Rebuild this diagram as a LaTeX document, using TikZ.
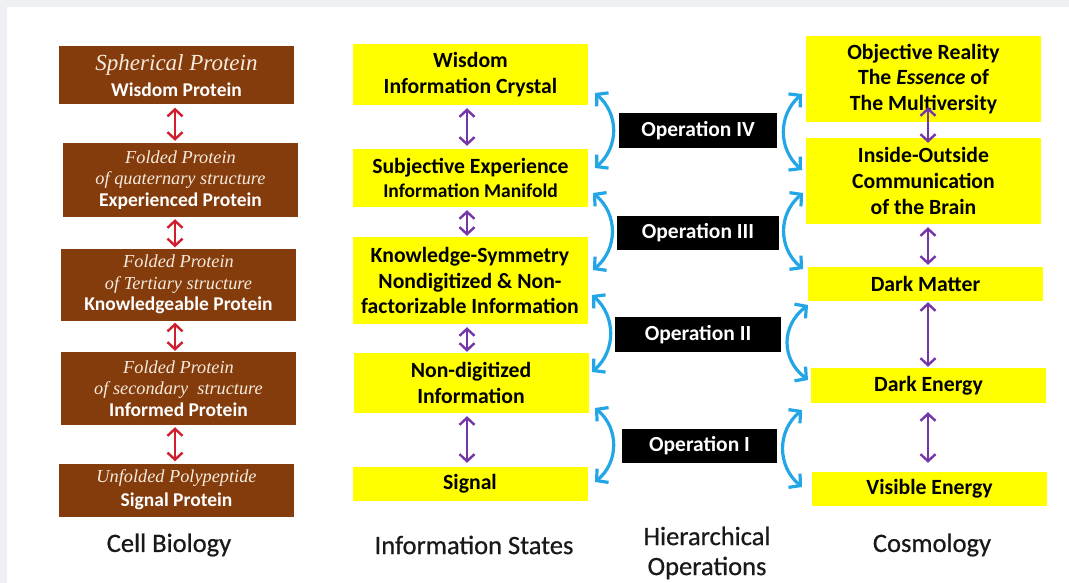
\documentclass[tikz,border=0pt]{standalone}
\usepackage{fontspec}
\setmainfont{Carlito}
\newfontfamily\scr{Liberation Serif}
\newfontfamily\lblfont[FakeBold=0.6]{Carlito}
\usetikzlibrary{arrows.meta}
\definecolor{bgray}{HTML}{EEF0F3}
\definecolor{pbrown}{HTML}{843C0C}
\definecolor{pcream}{HTML}{F5EBDD}
\definecolor{pyellow}{HTML}{FFFF00}
\definecolor{pred}{HTML}{D01E2E}
\definecolor{ppurple}{HTML}{7436A8}
\definecolor{pblue}{HTML}{22A6E6}
\newcommand{\fs}[2]{\fontsize{#1}{#2}\selectfont}
\newcommand{\itl}[1]{{\scr\itshape\color{pcream}\fs{18.3}{21.5}#1}}
\newcommand{\bdl}[1]{{\bfseries\color{white}#1}}
\begin{document}
\begin{tikzpicture}[x=1pt,y=-1pt,
  brownbox/.style={rectangle, fill=pbrown, text=white, align=center, inner sep=0pt, minimum width=235pt, font=\fs{19.5}{21.5}},
  yelbox/.style={rectangle, fill=pyellow, text=black, align=center, inner sep=0pt, minimum width=235pt, font=\bfseries\fs{21.7}{25.8}},
  opbox/.style={rectangle, fill=black, text=white, align=center, inner sep=0pt, minimum height=35pt, font=\bfseries\fs{21.5}{24}},
  redarr/.style={draw=pred, line width=2.4pt, {Straight Barb[length=7pt,width=15pt,line width=2.4pt]}-{Straight Barb[length=7pt,width=15pt,line width=2.4pt]}},
  purarr/.style={draw=ppurple, line width=2.4pt, {Straight Barb[length=7pt,width=15pt,line width=2.4pt]}-{Straight Barb[length=7pt,width=15pt,line width=2.4pt]}},
  bluarr/.style={draw=pblue, line width=3.2pt, {Straight Barb[length=8pt,width=18pt,line width=3.2pt]}-{Straight Barb[length=8pt,width=18pt,line width=3.2pt]}},
  lbl/.style={align=center, inner sep=0pt, text=black!90, font=\lblfont\fs{26.5}{30}}
]
\fill[bgray] (0,0) rectangle (1069,583);
\fill[white] (7,7) rectangle (1069,583);
\useasboundingbox (0,0) rectangle (1069,583);

% ---------- Cell biology column ----------
\node[brownbox, minimum height=58pt, font=\fs{19.5}{26}] (b1) at (176.5,75.5)
  {{\scr\itshape\color{pcream}\fs{23}{26}Spherical Protein}\\\bdl{Wisdom Protein}};
\node[brownbox, minimum height=74pt] (b2) at (180.5,180)
  {\itl{Folded Protein}\\\itl{of quaternary structure}\\\bdl{Experienced Protein}};
\node[brownbox, minimum height=72pt] (b3) at (178.5,284.5)
  {\itl{Folded Protein}\\\itl{of Tertiary structure}\\\bdl{Knowledgeable Protein}};
\node[brownbox, minimum height=73pt] (b4) at (178.5,388.5)
  {\itl{Folded Protein}\\\itl{of secondary\ \ structure}\\\bdl{Informed Protein}};
\node[brownbox, minimum height=53pt, font=\fs{19.5}{24}] (b5) at (176.5,490)
  {\itl{Unfolded Polypeptide}\\\bdl{Signal Protein}};

\coordinate (ax) at (175,0);
\draw[redarr, shorten <=3pt, shorten >=2pt] (b1.south -| ax) -- (b2.north -| ax);
\draw[redarr, shorten <=2pt, shorten >=1pt] (b2.south -| ax) -- (b3.north -| ax);
\draw[redarr, shorten <=2pt, shorten >=1pt] (b3.south -| ax) -- (b4.north -| ax);
\draw[redarr, shorten <=2pt, shorten >=2pt] (b4.south -| ax) -- (b5.north -| ax);

% ---------- Information states column ----------
\node[yelbox, minimum height=61pt] (m1) at (470.5,74.5) {Wisdom\\Information Crystal};
\node[yelbox, minimum height=58pt, font=\bfseries\fs{21.7}{23.5}] (m2) at (470.5,178)
  {Subjective Experience\\{\fs{19.5}{23.5}Information Manifold}};
\node[yelbox, minimum height=87pt] (m3) at (470,280.5)
  {Knowledge-Symmetry\\Nondigitized \& Non-\\factorizable Information};
\node[yelbox, minimum height=60pt] (m4) at (471,383) {Non-digitized\\Information};
\node[yelbox, minimum height=34pt] (m5) at (470,484) {Signal};

\coordinate (mx) at (467,0);
\draw[purarr, shorten <=3pt, shorten >=3pt] (m1.south -| mx) -- (m2.north -| mx);
\draw[purarr, shorten <=3pt, shorten >=1pt] (m2.south -| mx) -- (m3.north -| mx);
\draw[purarr, shorten <=3pt, shorten >=1pt] (m3.south -| mx) -- (m4.north -| mx);
\draw[purarr, shorten <=3pt, shorten >=4pt] (m4.south -| mx) -- (m5.north -| mx);

% ---------- Cosmology column ----------
\node[yelbox, minimum height=86pt] (r1) at (923.5,79)
  {Objective Reality\\The \textit{Essence} of\\The Multiversity};
\node[yelbox, minimum height=86pt] (r2) at (923.5,181)
  {Inside-Outside\\Communication\\of the Brain};
\node[yelbox, minimum height=34pt] (r3) at (925.5,284) {Dark Matter};
\node[yelbox, minimum height=35pt] (r4) at (928.5,385.5) {Dark Energy};
\node[yelbox, minimum height=34pt] (r5) at (929.5,489) {Visible Energy};

\coordinate (rx) at (928,0);
\draw[purarr, shorten <=-15pt, shorten >=-5pt] (r1.south -| rx) -- (r2.north -| rx);
\draw[purarr, shorten <=3pt, shorten >=2pt] (r2.south -| rx) -- (r3.north -| rx);
\draw[purarr, shorten <=1pt, shorten >=1pt] (r3.south -| rx) -- (r4.north -| rx);
\draw[purarr, shorten <=9pt, shorten >=9pt] (r4.south -| rx) -- (r5.north -| rx);

% ---------- Operations ----------
\node[opbox, minimum width=158pt] (o4) at (698,130.5) {Operation IV};
\node[opbox, minimum width=162pt, minimum height=34pt] (o3) at (698,233) {Operation III};
\node[opbox, minimum width=166pt] (o2) at (698,334.5) {Operation II};
\node[opbox, minimum width=155pt, minimum height=34pt] (o1) at (699.5,446) {Operation I};

% blue curved double arrows
\coordinate (l4a) at (595,93);  \coordinate (l4b) at (595,168);
\coordinate (r4a) at (802,94);  \coordinate (r4b) at (802,170);
\coordinate (l3a) at (593,193); \coordinate (l3b) at (593,270);
\coordinate (r3a) at (803,193); \coordinate (r3b) at (803,269);
\coordinate (l2a) at (592,295); \coordinate (l2b) at (592,372);
\coordinate (r2a) at (808,305); \coordinate (r2b) at (808,380);
\coordinate (l1a) at (595,408); \coordinate (l1b) at (595,482);
\coordinate (r1a) at (802,410); \coordinate (r1b) at (802,487);

\draw[bluarr] (l4a) .. controls (619,114) and (619,147) .. (l4b);
\draw[bluarr] (r4a) .. controls (778,115) and (778,149) .. (r4b);
\draw[bluarr] (l3a) .. controls (618,214) and (618,249) .. (l3b);
\draw[bluarr] (r3a) .. controls (778,214) and (778,248) .. (r3b);
\draw[bluarr] (l2a) .. controls (616,316) and (616,351) .. (l2b);
\draw[bluarr] (r2a) .. controls (781,326) and (781,359) .. (r2b);
\draw[bluarr] (l1a) .. controls (619,428) and (619,462) .. (l1b);
\draw[bluarr] (r1a) .. controls (777,431) and (777,466) .. (r1b);

% ---------- bottom labels ----------
\node[lbl] (t1) at (169,545) {Cell Biology};
\node[lbl] (t2) at (474,545) {Information States};
\node[lbl] (t3) at (707,553) {Hierarchical\\Operations};
\node[lbl] (t4) at (932,545) {Cosmology};
\end{tikzpicture}
\end{document}
